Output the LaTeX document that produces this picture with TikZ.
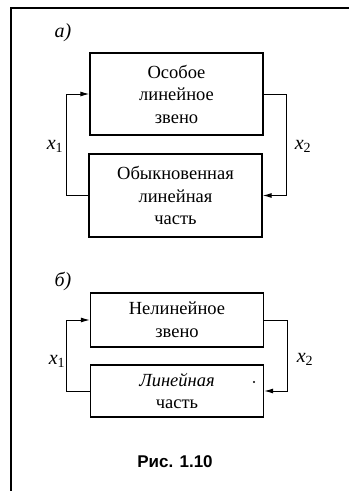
\documentclass[tikz,border=0pt]{standalone}
\usepackage{fontspec}
\setmainfont{Liberation Serif}
\newfontfamily\podpis{Liberation Sans}
\usetikzlibrary{arrows.meta}
\tikzset{
  blok/.style={draw, line width=1.3pt, minimum width=173pt, align=center,
    font=\fontsize{18.5}{22.5}\selectfont, inner sep=0pt},
  strel/.style={line width=1pt, -{Latex[length=9pt,width=5pt]}},
  metka/.style={font=\fontsize{20}{22}\selectfont}
}
\begin{document}
\begin{tikzpicture}[x=1pt,y=1pt]
  \useasboundingbox (0,0) rectangle (349,-491);
  % ramka
  \draw[line width=1.3pt] (11,-491) -- (11,-8) -- (349,-8);
  % a)
  \node[metka] (a) at (63,-33) {\itshape а)};
  \node[blok, minimum height=82pt] (osob) at (176.5,-94)
    {Особое\\линейное\\звено};
  \node[blok, minimum height=83pt] (obyk) at (175.5,-195.5)
    {Обыкновенная\\линейная\\часть};
  \draw[strel] (osob.east) -- ++(23,0) |- (obyk.east);
  \draw[strel] (obyk.west) -- ++(-22,0) |- (osob.west);
  \node[metka] (xa1) at (55,-146) {\textit{x}\textsubscript{1}};
  \node[metka] (xa2) at (303,-146) {\textit{x}\textsubscript{2}};
  % b)
  \node[metka] (b) at (63,-281) {\itshape б)};
  \node[blok, minimum height=54pt] (nelin) at (177,-320)
    {Нелинейное\\звено};
  \node[blok, minimum height=52pt] (lin) at (177,-391)
    {\itshape Линейная\\часть};
  \draw[strel] (nelin.east) -- ++(23,0) |- (lin.east);
  \draw[strel] (lin.west) -- ++(-23,0) |- (nelin.west);
  \node[metka] (xb1) at (57,-361) {\textit{x}\textsubscript{1}};
  \node[metka] (xb2) at (305,-359) {\textit{x}\textsubscript{2}};
  \fill (254,-382) circle (1.2pt);
  % podpis
  \node[font=\podpis\bfseries\fontsize{17}{20}\selectfont] (ris) at (175,-462) {Рис. 1.10};
\end{tikzpicture}
\end{document}
